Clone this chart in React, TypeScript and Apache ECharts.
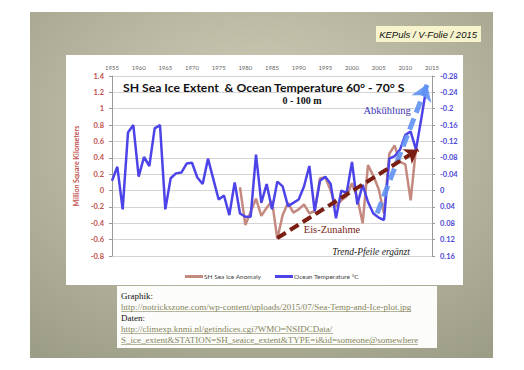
import React, { useEffect, useRef } from "react";
import * as echarts from "echarts";

// Ocean temperature (°C, right axis, inverted), 0-100 m, 60°-70° S
const tempYears = [
  1955, 1956, 1957, 1958, 1959, 1960, 1961, 1962, 1963, 1964,
  1965, 1966, 1967, 1968, 1969, 1970, 1971, 1972, 1973, 1974,
  1975, 1976, 1977, 1978, 1979, 1980, 1981, 1982, 1983, 1984,
  1985, 1986, 1987, 1988, 1989, 1990, 1991, 1992, 1993, 1994,
  1995, 1996, 1997, 1998, 1999, 2000, 2001, 2002, 2003, 2004,
  2005, 2006, 2007, 2008, 2009, 2010, 2011, 2012, 2013, 2014,
];
const tempValues = [
  -0.024, -0.058, 0.046, -0.142, -0.16, -0.034, -0.082, -0.06, -0.152, -0.16,
  0.046, -0.03, -0.042, -0.044, -0.066, -0.068, -0.032, -0.016, -0.078, -0.028,
  0.022, 0.012, 0.06, -0.02, 0.056, 0.064, 0.064, -0.088, 0.03, -0.016,
  0.046, -0.022, -0.01, 0.038, 0.03, 0.022, -0.01, -0.06, 0.05, -0.024,
  -0.034, -0.016, 0.068, 0, 0.006, -0.07, 0.034, -0.014, 0.028, 0.056,
  0.066, 0.072, -0.078, -0.084, -0.1, -0.136, -0.144, -0.1, -0.176, -0.256,
];

// SH sea ice anomaly (million km², left axis)
const iceYears = [
  1979, 1980, 1981, 1982, 1983, 1984, 1985, 1986, 1987, 1988,
  1989, 1990, 1991, 1992, 1993, 1994, 1995, 1996, 1997, 1998,
  1999, 2000, 2001, 2002, 2003, 2004, 2005, 2006, 2007, 2008,
  2009, 2010, 2011, 2012,
];
const iceValues = [
  0.04, -0.42, -0.26, -0.1, -0.31, -0.21, -0.13, -0.59, -0.3, -0.15,
  -0.27, -0.23, -0.17, -0.28, -0.25, 0.15, 0.16, 0.0, -0.19, -0.12,
  -0.07, 0.09, -0.09, -0.4, 0.31, 0.18, 0.02, -0.28, 0.45, 0.55,
  0.35, 0.32, -0.12, 0.52,
];

// Trend arrows (added annotations), in [year, left-axis value]
const iceTrendArrow = [
  [1986, -0.58],
  [2012.4, 0.5],
];
const coolingTrendArrow = [
  [2004.7, -0.28],
  [2014.1, 1.3],
];

const seriesNames = ["SH Sea Ice Anomaly", "Ocean Temperature °C"];
const leftTicks = { min: -0.8, max: 1.4, interval: 0.2 };
const rightTicks = { min: -0.28, max: 0.16, interval: 0.04 };
const xTicks = { min: 1955, max: 2015, interval: 5 };

const SANS = "Lato, 'Liberation Sans', sans-serif";
const SERIF = "'Liberation Serif', 'DejaVu Serif', serif";
const LINK = "#85855a";

export default function App() {
  const ref = useRef<HTMLDivElement>(null);

  useEffect(() => {
    if (!ref.current) return;
    const chart = echarts.init(ref.current, undefined, { renderer: "svg" });

    const tempData = tempYears.map((y, i) => [y, tempValues[i]]);
    const iceData = iceYears.map((y, i) => [y, iceValues[i]]);

    const underline = (x1: number, x2: number, y: number) => ({
      type: "line",
      z: 10,
      silent: true,
      shape: { x1, y1: y, x2, y2: y },
      style: { stroke: LINK, lineWidth: 0.6 },
    });

    chart.setOption({
      animation: false,
      backgroundColor: "#ffffff",
      grid: { left: 112, right: 92, top: 76, bottom: 114, containLabel: false },
      xAxis: {
        type: "value",
        position: "top",
        min: xTicks.min,
        max: xTicks.max,
        interval: xTicks.interval,
        axisLine: { show: false },
        axisTick: { show: false },
        splitLine: { show: false },
        axisLabel: {
          fontSize: 6,
          color: "#666",
          fontFamily: SANS,
          margin: 6,
          formatter: (v: number) => String(v),
        },
      },
      yAxis: [
        {
          type: "value",
          min: leftTicks.min,
          max: leftTicks.max,
          interval: leftTicks.interval,
          position: "left",
          axisLine: { show: true, lineStyle: { color: "#9a9a9a", width: 1 } },
          axisTick: { show: true, length: 3, lineStyle: { color: "#9a9a9a" } },
          splitLine: { show: true, lineStyle: { color: "#d4d4d4", width: 1 } },
          axisLabel: {
            fontSize: 7.5,
            fontWeight: "bold",
            color: "#c0504d",
            fontFamily: SANS,
            margin: 8,
          },
          name: "Million Square Kilometers",
          nameLocation: "middle",
          nameRotate: 90,
          nameGap: 18,
          nameTextStyle: {
            fontSize: 7,
            fontWeight: "bold",
            color: "#c0504d",
            fontFamily: SANS,
          },
        },
        {
          type: "value",
          min: rightTicks.min,
          max: rightTicks.max,
          interval: rightTicks.interval,
          inverse: true,
          position: "right",
          axisLine: { show: true, lineStyle: { color: "#9a9a9a", width: 1 } },
          axisTick: { show: true, length: 3, lineStyle: { color: "#9a9a9a" } },
          splitLine: { show: false },
          axisLabel: {
            fontSize: 7.5,
            fontWeight: "bold",
            color: "#4d47d6",
            fontFamily: SANS,
            margin: 8,
          },
        },
      ],
      legend: {
        data: seriesNames,
        left: 180,
        top: 268,
        itemWidth: 18,
        itemHeight: 3,
        itemGap: 14,
        icon: "rect",
        textStyle: { fontSize: 6.5, color: "#444", fontFamily: SANS, padding: [0, 0, 0, -4] },
      },
      graphic: [
        {
          type: "rect",
          z: -100,
          silent: true,
          shape: { x: 0, y: 0, width: 524, height: 370 },
          style: { fill: "#ffffff" },
        },
        {
          type: "rect",
          z: -99,
          silent: true,
          shape: { x: 30, y: 12, width: 463, height: 346 },
          style: {
            fill: {
              type: "radial",
              x: 0.5,
              y: 0.35,
              r: 0.8,
              colorStops: [
                { offset: 0, color: "#d3d1ba" },
                { offset: 1, color: "#9d9c86" },
              ],
            },
          },
        },
        {
          type: "rect",
          z: -98,
          silent: true,
          shape: { x: 66, y: 55, width: 397, height: 230 },
          style: { fill: "#ffffff" },
        },
        {
          type: "rect",
          z: -98,
          silent: true,
          shape: { x: 117, y: 286, width: 320, height: 62 },
          style: { fill: "#fcfcfa" },
        },
        {
          type: "rect",
          z: -98,
          silent: true,
          shape: { x: 376, y: 26, width: 105, height: 16 },
          style: { fill: "#f6f3cd" },
        },
        {
          type: "text",
          z: 10,
          x: 477,
          y: 34,
          style: {
            text: "KEPuls / V-Folie / 2015",
            fontSize: 9.5,
            fontStyle: "italic",
            fontFamily: "'Liberation Sans', sans-serif",
            fill: "#111",
            textAlign: "right",
            textVerticalAlign: "middle",
          },
        },
        {
          type: "text",
          z: 10,
          x: 123,
          y: 87,
          style: {
            text: "SH Sea Ice Extent  & Ocean Temperature 60° - 70° S",
            fontSize: 12.2,
            fontWeight: "bold",
            fontFamily: SANS,
            fill: "#111",
            textAlign: "left",
            textVerticalAlign: "middle",
          },
        },
        {
          type: "text",
          z: 10,
          x: 302,
          y: 100,
          style: {
            text: "0 - 100 m",
            fontSize: 10,
            fontWeight: "bold",
            fontFamily: SERIF,
            fill: "#111",
            textAlign: "center",
            textVerticalAlign: "middle",
          },
        },
        {
          type: "text",
          z: 10,
          x: 387,
          y: 110,
          style: {
            text: "Abkühlung",
            fontSize: 10.5,
            fontFamily: SERIF,
            fill: "#3b36b8",
            textAlign: "center",
            textVerticalAlign: "middle",
          },
        },
        {
          type: "text",
          z: 10,
          x: 332,
          y: 229,
          style: {
            text: "Eis-Zunahme",
            fontSize: 10.5,
            fontFamily: SERIF,
            fill: "#7b2518",
            textAlign: "center",
            textVerticalAlign: "middle",
          },
        },
        {
          type: "text",
          z: 10,
          x: 371,
          y: 252,
          style: {
            text: "Trend-Pfeile ergänzt",
            fontSize: 9.5,
            fontStyle: "italic",
            fontFamily: SERIF,
            fill: "#222",
            textAlign: "center",
            textVerticalAlign: "middle",
          },
        },
        {
          type: "text",
          z: 10,
          x: 121,
          y: 296,
          style: { text: "Graphik:", fontSize: 9, fontFamily: SERIF, fill: "#111", textVerticalAlign: "middle" },
        },
        {
          type: "text",
          z: 10,
          x: 121,
          y: 307,
          style: {
            text: "http://notrickszone.com/wp-content/uploads/2015/07/Sea-Temp-and-Ice-plot.jpg",
            fontSize: 9,
            fontFamily: SERIF,
            fill: LINK,
            textVerticalAlign: "middle",
          },
        },
        underline(121, 411, 311.5),
        {
          type: "text",
          z: 10,
          x: 121,
          y: 318,
          style: { text: "Daten:", fontSize: 9, fontFamily: SERIF, fill: "#111", textVerticalAlign: "middle" },
        },
        {
          type: "text",
          z: 10,
          x: 121,
          y: 329,
          style: {
            text: "http://climexp.knmi.nl/getindices.cgi?WMO=NSIDCData/",
            fontSize: 9,
            fontFamily: SERIF,
            fill: LINK,
            textVerticalAlign: "middle",
          },
        },
        underline(121, 333, 333.5),
        {
          type: "text",
          z: 10,
          x: 121,
          y: 340,
          style: {
            text: "S_ice_extent&STATION=SH_seaice_extent&TYPE=i&id=someone@somewhere",
            fontSize: 9,
            fontFamily: SERIF,
            fill: LINK,
            textVerticalAlign: "middle",
          },
        },
        underline(121, 418, 344.5),
      ],
      series: [
        {
          name: seriesNames[0],
          type: "line",
          yAxisIndex: 0,
          data: iceData,
          symbol: "none",
          color: "#c48a80",
          lineStyle: { color: "#c48a80", width: 2.5 },
          z: 3,
        },
        {
          name: seriesNames[1],
          type: "line",
          yAxisIndex: 1,
          data: tempData,
          symbol: "none",
          color: "#4c44e8",
          lineStyle: { color: "#4c44e8", width: 2.5 },
          z: 4,
        },
        {
          name: "cooling trend",
          type: "lines",
          coordinateSystem: "cartesian2d",
          xAxisIndex: 0,
          yAxisIndex: 0,
          z: 5,
          symbol: ["none", "arrow"],
          symbolSize: 16,
          lineStyle: { color: "#5f92f2", width: 5, type: [12, 6], opacity: 0.9 },
          data: [{ coords: coolingTrendArrow }],
        },
        {
          name: "ice trend",
          type: "lines",
          coordinateSystem: "cartesian2d",
          xAxisIndex: 0,
          yAxisIndex: 0,
          z: 6,
          symbol: ["none", "arrow"],
          symbolSize: 13,
          lineStyle: { color: "#7a1d12", width: 4, type: [10, 5], opacity: 1 },
          data: [{ coords: iceTrendArrow }],
        },
      ],
    });

    return () => chart.dispose();
  }, []);

  return (
    <div
      ref={ref}
      style={{ position: "fixed", left: 0, top: 0, width: 524, height: 370 }}
    />
  );
}
